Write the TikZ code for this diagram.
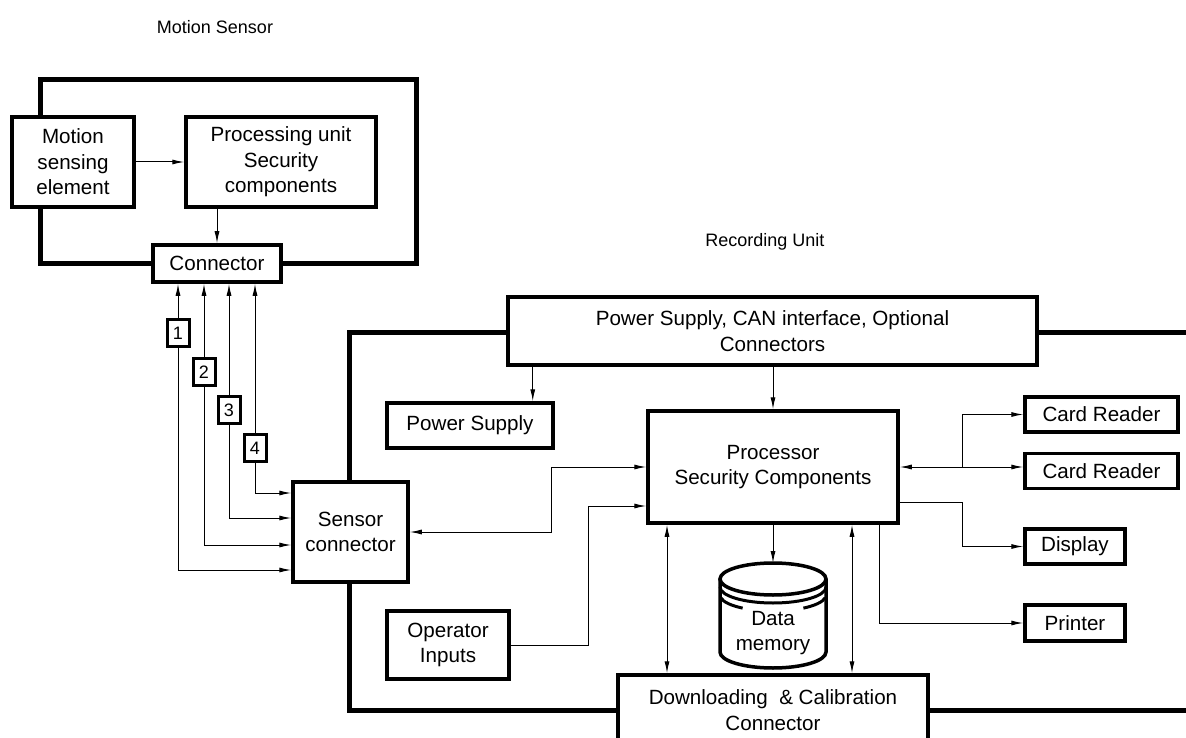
\documentclass[tikz,border=0pt]{standalone}
\usepackage{fontspec}
\setmainfont{Liberation Sans}
\usetikzlibrary{arrows.meta,positioning}

\begin{document}
\begin{tikzpicture}[x=1pt,y=-1pt,
   every node/.style={font=\fontsize{20.6}{25.5}\selectfont,align=center,inner sep=0pt},
   blk/.style={draw,line width=3.5pt,fill=white},
   tag/.style={draw,line width=3pt,fill=white,minimum width=22pt,minimum height=27pt,font=\fontsize{18}{20}\selectfont},
   frame/.style={line width=5pt},
   title/.style={font=\fontsize{18}{22}\selectfont},
   arr/.style={line width=1pt,-{Latex[length=12pt,width=5pt]}},
   dbl/.style={line width=1pt,{Latex[length=12pt,width=5pt]}-{Latex[length=12pt,width=5pt]}}]
   \useasboundingbox (0,0) rectangle (1186,738);

   % motion sensor
   \node[title] (t_ms) at (215,27) {Motion Sensor};
   \draw[frame] (40,117) -- (40,80) -- (416,80) -- (416,263.5) -- (281,263.5);
   \draw[frame] (153,263.5) -- (40,263.5) -- (40,207);
   \node[blk,minimum width=122pt,minimum height=90pt]  (msens) at (73,162)    {Motion\\sensing\\element};
   \node[blk,minimum width=190pt,minimum height=90pt]  (pu)    at (281,162)   {Processing unit\\Security\\components};
   \node[blk,minimum width=128pt,minimum height=37pt]  (conn)  at (217,263.5) {Connector};
   \draw[arr] (msens) -- (pu);
   \draw[arr] (conn.north |- pu.south) -- (conn.north);

   % recording unit
   \node[title] (t_ru) at (765,242) {Recording Unit};
   \draw[frame] (508,332) -- (349,332) -- (349,482);
   \draw[frame] (349,582) -- (349,710) -- (618,710);
   \draw[frame] (1037,332) -- (1186,332);
   \draw[frame] (928,710) -- (1186,710);

   \node[blk,minimum width=115pt,minimum height=100pt] (sc)    at (350.5,532) {Sensor\\connector};
   \node[blk,minimum width=529pt,minimum height=68pt]  (pscan) at (772.5,331) {Power Supply, CAN interface, Optional\\Connectors};
   \node[blk,minimum width=166pt,minimum height=45pt]  (psup)  at (470,425.5) {Power Supply};
   \node[blk,minimum width=250pt,minimum height=112pt] (cpu)   at (773,467)   {Processor\\Security Components};
   \node[blk,minimum width=122pt,minimum height=68pt]  (opin)  at (448,645)   {Operator\\Inputs};
   \node[blk,minimum width=310pt,minimum height=70pt]  (dl)    at (773,710)   {Downloading\ \ \& Calibration\\Connector};
   \node[blk,minimum width=153pt,minimum height=35pt]  (cr1)   at (1101.5,414.5) {Card Reader};
   \node[blk,minimum width=153pt,minimum height=35pt]  (cr2)   [below=18pt of cr1] {Card Reader};
   \node[blk,minimum width=100pt,minimum height=35pt]  (disp)  at (1075,546.5) {Display};
   \node[blk,minimum width=100pt,minimum height=36pt]  (prn)   at (1075,623)   {Printer};

   % data memory
   \draw[line width=3.5pt,fill=white] (720,579) -- (720,652) arc[start angle=180,end angle=0,x radius=53,y radius=16] -- (826,579);
   \draw[line width=3.5pt] (773,579) ellipse[x radius=53,y radius=16];
   \draw[line width=3pt] (720,587) arc[start angle=180,end angle=0,x radius=53,y radius=16];
   \draw[line width=3pt] (773,595) ++(170:53 and 16) arc[start angle=170,end angle=125,x radius=53,y radius=16];
   \draw[line width=3pt] (773,595) ++(55:53 and 16) arc[start angle=55,end angle=10,x radius=53,y radius=16];
   \coordinate (dmtop) at (773,563);
   \node (dmem) at (773,633) {Data\\memory};

   % sensor lines
   \coordinate (w1) at (178,570);
   \coordinate (w2) at (204,545);
   \coordinate (w3) at (229,518);
   \coordinate (w4) at (255,493);
   \foreach \w in {w1,w2,w3,w4}
      \draw[dbl] (conn.south -| \w) -- (\w) -- (\w -| sc.west);
   \node[tag] (n1) at (178,333) {1};
   \node[tag] (n2) at (204,372) {2};
   \node[tag] (n3) at (229,410) {3};
   \node[tag] (n4) at (255,448) {4};

   % connections
   \path ([xshift=-22pt]psup.north east) coordinate (a_ps);
   \draw[arr] (pscan.south -| a_ps) -- (a_ps);
   \draw[arr] (pscan.south -| cpu.north) -- (cpu.north);
   \draw[dbl] (cpu.west) -- ++(-95,0) |- (sc.east);
   \draw[arr] (opin.east) -- ++(78,0) |- ([yshift=-39pt]cpu.west);
   \draw[arr] (cpu.south) -- (dmtop);
   \draw[dbl] ([xshift=-106pt]cpu.south) -- ([xshift=-106pt]cpu.south |- dl.north);
   \draw[dbl] ([xshift=79pt]cpu.south) -- ([xshift=79pt]cpu.south |- dl.north);
   \coordinate (br) at (962,467);
   \draw[dbl] (cpu.east) -- (cpu.east -| cr2.west);
   \draw[arr] (br) |- (cr1.west);
   \draw[arr] ([yshift=-35pt]cpu.east) -- ([yshift=-35pt]cpu.east -| br) |- (disp.west);
   \draw[arr] ([xshift=106pt]cpu.south) |- (prn.west);
\end{tikzpicture}
\end{document}
